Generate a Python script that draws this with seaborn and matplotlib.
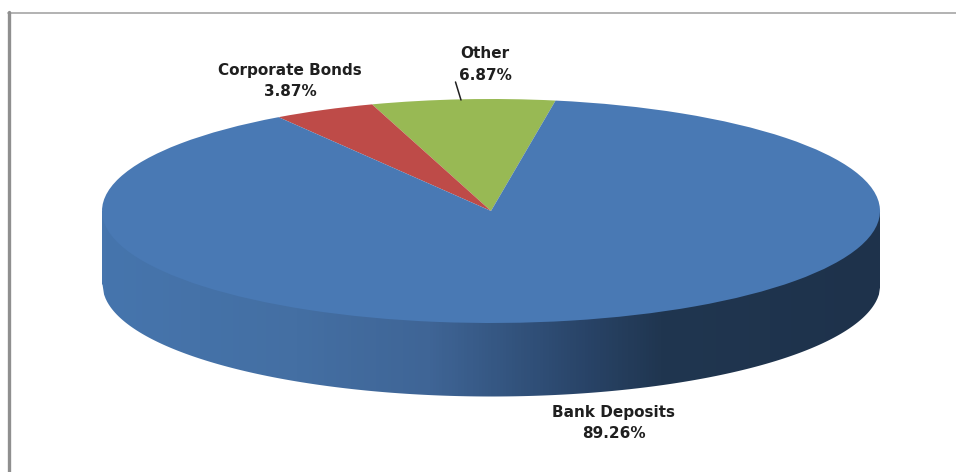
import numpy as np
import seaborn as sns
import matplotlib.pyplot as plt
from matplotlib.colors import LinearSegmentedColormap

# Values from the chart labels
categories = ['Other', 'Corporate Bonds', 'Bank Deposits']
shares = [6.87, 3.87, 89.26]
share_labels = ['6.87%', '3.87%', '89.26%']
slice_colors = ['#98b954', '#be4b48', '#4979b4']

sns.set_theme(style='white')
plt.rcParams['font.family'] = ['DejaVu Sans']

W, H = 956, 472
fig = plt.figure(figsize=(W / 100, H / 100), dpi=100, facecolor='white')

# Background axes works in image pixels: frame, rim, labels
bg = fig.add_axes([0, 0, 1, 1])
bg.set_xlim(0, W)
bg.set_ylim(H, 0)
bg.axis('off')

# Pie ellipse in pixels
cx, cy, rx, ry = 491, 211, 389, 112
depth = 73

# Rim of the 3D pie: horizontal gradient, then white cover below the lower edge
rim_cmap = LinearSegmentedColormap.from_list('rim', [
    (0.00, '#4675ad'), (0.25, '#446fa3'), (0.42, '#3f6596'),
    (0.52, '#345580'), (0.62, '#294468'), (0.72, '#203650'), (1.00, '#1e324b')])
bg.imshow(np.linspace(0, 1, 778).reshape(1, -1), cmap=rim_cmap, aspect='auto', zorder=1,
          extent=(cx - rx, cx + rx, cy + ry + depth + 2, cy))
bg.set_xlim(0, W)
bg.set_ylim(H, 0)
xs = np.linspace(cx - rx, cx + rx, 500)
lower = cy + ry * np.sqrt(np.clip(1 - ((xs - cx) / rx) ** 2, 0, 1)) + depth
# a few extra pixels each side so no sliver of the gradient is left showing
xs = np.r_[cx - rx - 3, xs, cx + rx + 3]
lower = np.r_[cy + depth, lower, cy + depth]
bg.fill_between(xs, lower, cy + ry + depth + 4, color='white', lw=0, zorder=2)

# Top face: a normal pie squashed by its own non-equal axes
top = fig.add_axes([(cx - rx) / W, 1 - (cy + ry) / H, 2 * rx / W, 2 * ry / H])
wedges, _ = top.pie(shares, colors=slice_colors, startangle=82.3, counterclock=True,
                    radius=1, center=(0, 0), wedgeprops={'linewidth': 0})
top.set_aspect('auto')
top.set_xlim(-1, 1)
top.set_ylim(-1, 1)
top.axis('off')


# Perspective of the original widens the slices on the far side a little
def foreshorten(angle):
    return angle + 3.2 * np.sin(np.radians(2 * (angle - 100)))


for w in wedges:
    t1, t2 = w.theta1, w.theta2
    w.set_theta1(foreshorten(t1))
    w.set_theta2(foreshorten(t2))

# Frame: only top and left show in the picture
bg.plot([8, W], [12.5, 12.5], color='#adadad', lw=1.3, zorder=3)
bg.plot([9.5, 9.5], [12, H], color='#8f8f8f', lw=2.4, zorder=3)

# Labels
label_kw = dict(ha='center', va='center', fontsize=11, fontweight='bold', color='#1f1f1f', zorder=5)
bg.text(290, 70, categories[1], **label_kw)
bg.text(290, 92, share_labels[1], **label_kw)
bg.text(485, 54, categories[0], **label_kw)
bg.text(485, 75, share_labels[0], **label_kw)
bg.text(614, 412, categories[2], **label_kw)
bg.text(614, 433, share_labels[2], **label_kw)

# Leader line for Other, on a top layer
over = fig.add_axes([0, 0, 1, 1], facecolor='none')
over.set_xlim(0, W)
over.set_ylim(H, 0)
over.axis('off')
over.plot([455.5, 461], [82, 100], color='#1f1f1f', lw=1.1)

fig.savefig('out.png', dpi=100)
